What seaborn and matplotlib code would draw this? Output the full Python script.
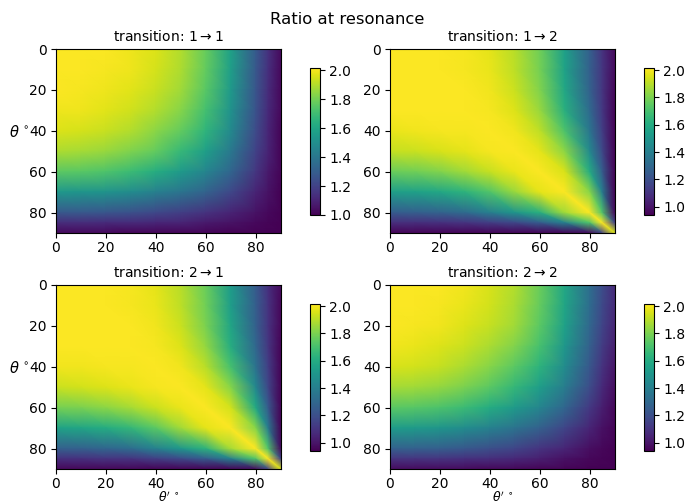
import numpy as np
import matplotlib
matplotlib.use('Agg')
import matplotlib.pyplot as plt
import seaborn as sns

angles = [0, 10, 20, 30, 40, 50, 60, 70, 80, 85, 90]
tick_vals = [0, 20, 40, 60, 80]
cbar_ticks = [1.0, 1.2, 1.4, 1.6, 1.8, 2.0]

# values, rows are theta, columns are theta'
ratio_11 = [
    [2.01, 2.01, 2.01, 1.99, 1.96, 1.90, 1.78, 1.58, 1.29, 1.15, 1.03],
    [2.01, 2.01, 2.00, 1.99, 1.95, 1.89, 1.77, 1.57, 1.28, 1.14, 1.02],
    [2.01, 2.00, 1.99, 1.97, 1.93, 1.87, 1.75, 1.55, 1.27, 1.13, 1.02],
    [1.99, 1.99, 1.97, 1.94, 1.90, 1.83, 1.71, 1.52, 1.26, 1.12, 1.02],
    [1.96, 1.95, 1.93, 1.90, 1.84, 1.77, 1.66, 1.48, 1.23, 1.11, 1.01],
    [1.89, 1.88, 1.86, 1.82, 1.77, 1.68, 1.57, 1.41, 1.20, 1.10, 1.01],
    [1.76, 1.75, 1.73, 1.69, 1.63, 1.55, 1.46, 1.33, 1.16, 1.07, 1.01],
    [1.54, 1.53, 1.52, 1.49, 1.44, 1.39, 1.32, 1.22, 1.10, 1.05, 1.00],
    [1.28, 1.28, 1.27, 1.25, 1.22, 1.19, 1.15, 1.10, 1.05, 1.02, 1.00],
    [1.13, 1.13, 1.12, 1.12, 1.11, 1.10, 1.07, 1.05, 1.02, 1.01, 1.00],
    [1.02, 1.02, 1.02, 1.01, 1.01, 1.01, 1.01, 1.00, 1.00, 1.00, 1.00],
]
ratio_12 = [
    [2.01, 2.01, 2.01, 2.00, 1.97, 1.90, 1.78, 1.55, 1.27, 1.10, 0.97],
    [2.01, 2.01, 2.01, 2.00, 1.98, 1.91, 1.79, 1.56, 1.27, 1.11, 0.97],
    [2.01, 2.01, 2.01, 2.01, 1.99, 1.93, 1.81, 1.58, 1.28, 1.11, 0.96],
    [2.01, 2.01, 2.01, 2.01, 2.00, 1.96, 1.85, 1.62, 1.31, 1.12, 0.95],
    [1.98, 1.99, 2.00, 2.00, 2.01, 1.99, 1.91, 1.71, 1.36, 1.14, 0.95],
    [1.92, 1.93, 1.95, 1.97, 2.00, 2.01, 1.97, 1.83, 1.45, 1.18, 0.95],
    [1.77, 1.78, 1.81, 1.86, 1.92, 1.98, 2.01, 1.95, 1.60, 1.26, 0.95],
    [1.54, 1.55, 1.58, 1.63, 1.72, 1.85, 1.97, 2.01, 1.82, 1.40, 0.95],
    [1.25, 1.26, 1.28, 1.31, 1.40, 1.50, 1.62, 1.86, 2.01, 1.72, 0.97],
    [1.08, 1.08, 1.09, 1.10, 1.13, 1.17, 1.25, 1.40, 1.72, 2.01, 1.15],
    [0.95, 0.95, 0.95, 0.95, 0.95, 0.95, 0.95, 0.95, 0.97, 1.15, 1.95],
]
ratio_21 = [
    [2.01, 2.01, 2.01, 2.00, 1.97, 1.90, 1.77, 1.53, 1.25, 1.09, 0.97],
    [2.01, 2.01, 2.01, 2.00, 1.98, 1.91, 1.78, 1.54, 1.26, 1.10, 0.96],
    [2.01, 2.01, 2.01, 2.01, 1.99, 1.93, 1.80, 1.57, 1.27, 1.10, 0.96],
    [2.01, 2.01, 2.01, 2.01, 2.00, 1.96, 1.84, 1.61, 1.30, 1.11, 0.95],
    [1.99, 1.99, 2.00, 2.00, 2.01, 1.99, 1.90, 1.70, 1.35, 1.14, 0.95],
    [1.93, 1.94, 1.96, 1.98, 2.00, 2.01, 1.97, 1.82, 1.44, 1.17, 0.95],
    [1.79, 1.80, 1.83, 1.87, 1.93, 1.98, 2.01, 1.94, 1.59, 1.25, 0.95],
    [1.56, 1.57, 1.60, 1.65, 1.74, 1.86, 1.97, 2.01, 1.82, 1.39, 0.95],
    [1.27, 1.27, 1.29, 1.32, 1.41, 1.51, 1.63, 1.87, 2.01, 1.72, 0.97],
    [1.09, 1.09, 1.10, 1.10, 1.14, 1.18, 1.25, 1.40, 1.72, 2.01, 1.15],
    [0.96, 0.96, 0.96, 0.96, 0.95, 0.95, 0.95, 0.95, 0.97, 1.15, 1.95],
]
ratio_22 = [
    [2.01, 2.01, 2.01, 1.99, 1.95, 1.89, 1.77, 1.58, 1.33, 1.19, 1.07],
    [2.01, 2.01, 2.00, 1.98, 1.94, 1.88, 1.76, 1.57, 1.32, 1.18, 1.07],
    [2.01, 2.00, 1.99, 1.96, 1.92, 1.86, 1.74, 1.55, 1.30, 1.16, 1.05],
    [1.99, 1.98, 1.96, 1.93, 1.88, 1.81, 1.70, 1.51, 1.27, 1.13, 1.03],
    [1.95, 1.94, 1.92, 1.88, 1.82, 1.74, 1.63, 1.46, 1.23, 1.10, 1.00],
    [1.87, 1.86, 1.84, 1.80, 1.74, 1.65, 1.54, 1.39, 1.19, 1.07, 0.98],
    [1.74, 1.73, 1.71, 1.67, 1.60, 1.52, 1.43, 1.29, 1.12, 1.03, 0.96],
    [1.53, 1.52, 1.50, 1.46, 1.41, 1.35, 1.27, 1.16, 1.05, 0.99, 0.95],
    [1.27, 1.27, 1.26, 1.23, 1.20, 1.16, 1.10, 1.05, 0.98, 0.96, 0.94],
    [1.10, 1.10, 1.10, 1.09, 1.08, 1.06, 1.03, 0.99, 0.96, 0.95, 0.94],
    [0.97, 0.97, 0.97, 0.97, 0.96, 0.96, 0.95, 0.95, 0.94, 0.94, 0.94],
]

panels = [
    (ratio_11, 'transition: $1 \\rightarrow 1$', 1.0),
    (ratio_12, 'transition: $1 \\rightarrow 2$', 0.94),
    (ratio_21, 'transition: $2 \\rightarrow 1$', 0.94),
    (ratio_22, 'transition: $2 \\rightarrow 2$', 0.94),
]

sns.set_style('ticks', {'text.color': 'black', 'axes.labelcolor': 'black', 'axes.edgecolor': 'black',
                        'xtick.color': 'black', 'ytick.color': 'black'})
plt.rcParams['font.family'] = ['DejaVu Sans']
plt.rcParams['mathtext.fontset'] = 'dejavusans'
cmap = sns.color_palette('viridis', as_cmap=True)

# triangles cut along the main diagonal so the bright ridge stays clean
xx, yy = np.meshgrid(angles, angles)
n = len(angles)
tris = []
for r in range(n - 1):
    for c in range(n - 1):
        a = r * n + c
        tris.append([a, a + 1, a + n + 1])
        tris.append([a, a + n + 1, a + n])

W, H = 689.0, 504.0
fig = plt.figure(figsize=(6.89, 5.04), dpi=100)
fig.suptitle('Ratio at resonance', x=347 / W, y=1 - 19 / H, fontsize=11.8, va='center')

lefts = [56, 390]
tops = [49, 285]
for i, (vals, title, vmin) in enumerate(panels):
    row, col = i // 2, i % 2
    x0, y0 = lefts[col], tops[row]
    ax = fig.add_axes([x0 / W, 1 - (y0 + 184) / H, 224.5 / W, 184 / H])
    mesh = ax.tripcolor(xx.ravel(), yy.ravel(), tris, np.array(vals).ravel(), shading='gouraud',
                        cmap=cmap, vmin=vmin, vmax=2.015)
    ax.set_xlim(0, 90)
    ax.set_ylim(90, 0)
    ax.set_xticks(tick_vals)
    ax.set_yticks(tick_vals)
    ax.tick_params(labelsize=10, length=3.5, width=0.8, pad=3)
    ax.tick_params(axis='x', pad=2.5)
    ax.set_title(title, fontsize=10, pad=6)
    if col == 0:
        ax.set_ylabel("$\\theta\\,^\\circ$", rotation=0, fontsize=10.5, ha='right', va='center')
        ax.yaxis.set_label_coords(-27 / 224.5, 0.549)
    if row == 1:
        ax.set_xlabel("$\\theta'\\,^\\circ$", fontsize=9, labelpad=-0.5)

    cax = fig.add_axes([(x0 + 253.5) / W, 1 - (y0 + 166) / H, 10.5 / W, 147 / H])
    cb = fig.colorbar(mesh, cax=cax, ticks=cbar_ticks)
    cb.ax.tick_params(labelsize=10, length=3.5, width=0.8, pad=3)
    cb.outline.set_linewidth(0.8)

plt.savefig('out.png', dpi=100)
